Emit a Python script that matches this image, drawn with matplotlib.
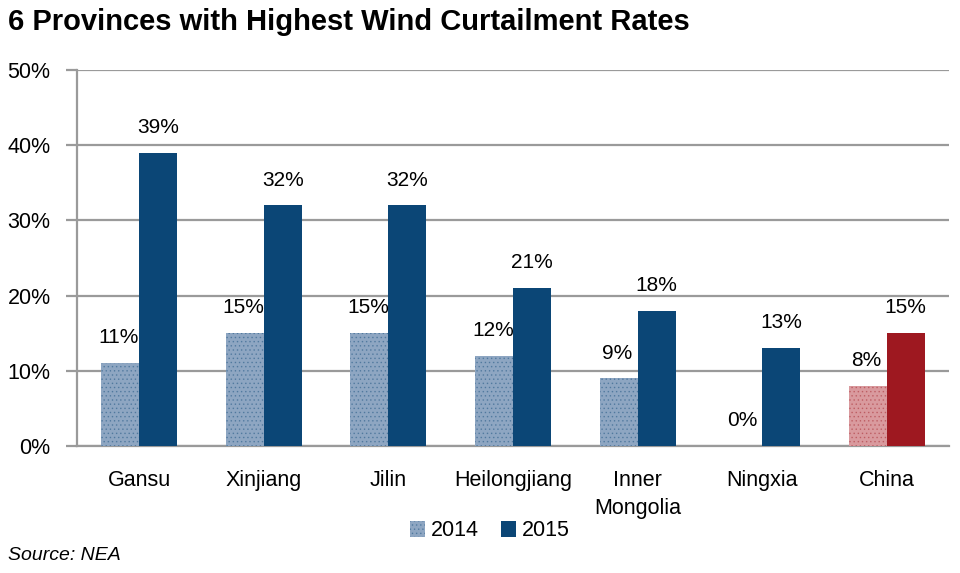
import numpy as np
import matplotlib.pyplot as plt
from matplotlib.ticker import PercentFormatter

plt.rcParams['font.family'] = ['Liberation Sans', 'DejaVu Sans']
plt.rcParams['hatch.linewidth'] = 0.6

provinces = ["Gansu", "Xinjiang", "Jilin", "Heilongjiang", "Inner\nMongolia", "Ningxia", "China"]
rate_2014 = [11, 15, 15, 12, 9, 0, 8]
rate_2015 = [39, 32, 32, 21, 18, 13, 15]

blue = "#0b4676"
blue_light = "#8ea6c2"
red = "#9e1820"
red_light = "#d99a9e"

fig = plt.figure(figsize=(9.6, 5.73), dpi=100)
ax = fig.add_axes([77 / 960, 1 - 446 / 573, 872 / 960, 376 / 573])

x = np.arange(len(provinces))
w = 0.305
c14 = [blue_light] * 6 + [red_light]
c15 = [blue] * 6 + [red]
h14 = [blue] * 6 + [red]

bars14 = ax.bar(x - w / 2, rate_2014, w, color=c14, edgecolor="none", label="2014", zorder=3)
for b, hc in zip(bars14, h14):
    b.set_hatch("....")
    b._hatch_color = plt.matplotlib.colors.to_rgba(hc, 0.35)
bars15 = ax.bar(x + w / 2, rate_2015, w, color=c15, edgecolor="none", label="2015", zorder=3)

for b, v in zip(bars14, rate_2014):
    ax.text(b.get_x() + b.get_width() / 2 - 0.01, v + 2.1, f"{v}%", ha="center", va="bottom", fontsize=15)
for b, v in zip(bars15, rate_2015):
    ax.text(b.get_x() + b.get_width() / 2, v + 2.1, f"{v}%", ha="center", va="bottom", fontsize=15)

ax.set_xlim(-0.5, len(provinces) - 0.5)
ax.set_ylim(0, 50)
ax.set_yticks(range(0, 51, 10))
ax.yaxis.set_major_formatter(PercentFormatter(decimals=0))
ax.grid(axis="y", color="#9a9a9a", linewidth=1.6, zorder=0)
ax.set_xticks(x)
ax.set_xticklabels(provinces, fontsize=15.5, linespacing=1.45)
ax.tick_params(axis="x", length=0, pad=17)
ax.tick_params(axis="y", labelsize=15.5, length=8, width=1.6, color="#9a9a9a", pad=11)
for s in ["top", "right"]:
    ax.spines[s].set_visible(False)
for s in ["left", "bottom"]:
    ax.spines[s].set_color("#9a9a9a")
    ax.spines[s].set_linewidth(1.6)

fig.text(8 / 960, 1 - 22 / 573, "6 Provinces with Highest Wind Curtailment Rates",
         fontsize=21, fontweight="bold", va="center", ha="left")
fig.text(8 / 960, 1 - 555 / 573, "Source: NEA", fontsize=14, style="italic", va="center", ha="left")

fig.legend(handles=[bars14[0], bars15[0]], labels=["2014", "2015"], loc="center",
           bbox_to_anchor=(490 / 960, 1 - 531 / 573), ncol=2, frameon=False, fontsize=15.5,
           handlelength=0.7, handleheight=0.7, handletextpad=0.3, columnspacing=1.0)

fig.savefig("out.png", dpi=100)
